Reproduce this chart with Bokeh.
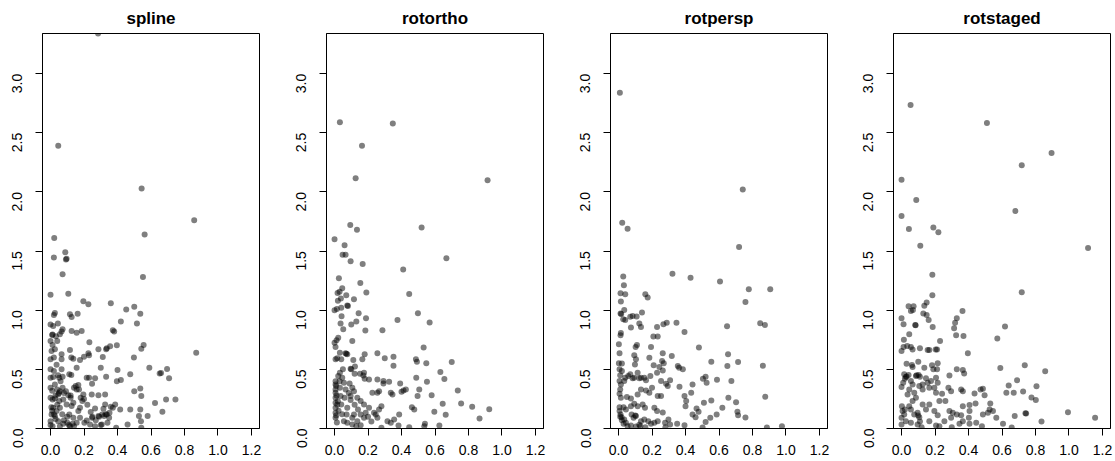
import math
from bokeh.plotting import figure
from bokeh.layouts import row
from bokeh.models import Range1d, FixedTicker, PrintfTickFormatter
from bokeh.embed import file_html
from bokeh.resources import INLINE

panel_titles = ["spline", "rotortho", "rotpersp", "rotstaged"]
x_ticks = [0.0, 0.2, 0.4, 0.6, 0.8, 1.0, 1.2]
y_ticks = [0.0, 0.5, 1.0, 1.5, 2.0, 2.5, 3.0]

spline_pts = [
    (0.284, 3.34), (0.046, 2.39), (0.544, 2.03), (0.858, 1.76), (0.562, 1.64), (0.022, 1.61),
    (0.088, 1.49), (0.092, 1.43), (0.096, 1.435), (0.020, 1.446), (0.072, 1.305), (0.552, 1.28),
    (0.0, 1.13), (0.106, 1.14), (0.196, 1.076), (0.226, 1.05), (0.36, 1.06), (0.452, 1.006),
    (0.5, 1.03), (0.536, 0.97), (0.516, 0.887), (0.42, 0.904), (0.026, 0.977), (0.02, 0.96),
    (0.116, 0.966), (0.126, 0.943), (0.162, 0.97), (0.0, 0.88), (0.016, 0.867), (0.044, 0.887),
    (0.072, 0.84), (0.066, 0.82), (0.01, 0.79), (0.012, 0.795), (0.032, 0.78), (0.056, 0.797),
    (0.126, 0.825), (0.156, 0.81), (0.186, 0.825), (0.372, 0.83), (0.38, 0.82), (0.232, 0.73),
    (0.0, 0.74), (0.012, 0.706), (0.026, 0.67), (0.006, 0.655), (0.04, 0.74), (0.066, 0.627),
    (0.066, 0.585), (0.116, 0.664), (0.124, 0.6), (0.136, 0.59), (0.176, 0.58), (0.2, 0.607),
    (0.226, 0.636), (0.23, 0.62), (0.286, 0.67), (0.332, 0.67), (0.336, 0.678), (0.356, 0.695),
    (0.312, 0.605), (0.396, 0.703), (0.498, 0.6), (0.542, 0.675), (0.556, 0.706), (0.0, 0.585),
    (0.02, 0.6), (0.036, 0.54), (0.0, 0.5), (0.02, 0.486), (0.066, 0.5), (0.156, 0.514),
    (0.3, 0.514), (0.4, 0.494), (0.59, 0.514), (0.652, 0.466), (0.66, 0.469), (0.696, 0.503),
    (0.708, 0.424), (0.476, 0.458), (0.396, 0.4), (0.42, 0.41), (0.332, 0.438), (0.248, 0.378),
    (0.216, 0.43), (0.23, 0.43), (0.266, 0.424), (0.112, 0.458), (0.124, 0.452), (0.0, 0.43),
    (0.016, 0.435), (0.052, 0.43), (0.072, 0.438), (0.026, 0.373), (0.0, 0.345), (0.04, 0.33),
    (0.056, 0.316), (0.072, 0.345), (0.08, 0.30), (0.0, 0.26), (0.012, 0.246), (0.026, 0.254),
    (0.046, 0.288), (0.052, 0.232), (0.092, 0.316), (0.106, 0.282), (0.12, 0.26), (0.14, 0.345),
    (0.156, 0.33), (0.166, 0.367), (0.196, 0.288), (0.18, 0.26), (0.19, 0.232), (0.246, 0.288),
    (0.286, 0.282), (0.326, 0.288), (0.326, 0.203), (0.386, 0.203), (0.36, 0.184), (0.372, 0.175),
    (0.352, 0.133), (0.336, 0.119), (0.32, 0.105), (0.308, 0.119), (0.286, 0.105), (0.316, 0.167),
    (0.266, 0.17), (0.248, 0.09), (0.216, 0.068), (0.202, 0.048), (0.176, 0.09), (0.156, 0.048),
    (0.136, 0.09), (0.112, 0.119), (0.1, 0.048), (0.166, 0.147), (0.176, 0.175), (0.136, 0.218),
    (0.126, 0.19), (0.096, 0.203), (0.076, 0.246), (0.056, 0.175), (0.036, 0.147), (0.016, 0.175),
    (0.006, 0.119), (0.026, 0.105), (0.046, 0.062), (0.0, 0.062), (0.012, 0.02), (0.056, 0.02),
    (0.076, 0.04), (0.116, 0.02), (0.132, 0.04), (0.236, 0.034), (0.266, 0.02), (0.306, 0.034),
    (0.34, 0.048), (0.392, 0.006), (0.416, 0.161), (0.476, 0.161), (0.536, 0.161), (0.528, 0.105),
    (0.54, 0.062), (0.5, 0.316), (0.536, 0.339), (0.542, 0.274), (0.58, 0.105), (0.624, 0.215),
    (0.668, 0.141), (0.69, 0.246), (0.746, 0.246), (0.46, 0.034), (0.542, 0.006), (0.87, 0.64),
    (0.005, 0.18), (0.01, 0.15), (0.02, 0.12), (0.03, 0.08), (0.0, 0.03), (0.04, 0.2),
    (0.03, 0.28), (0.05, 0.3), (0.06, 0.4), (0.045, 0.45), (0.01, 0.32), (0.07, 0.12),
    (0.08, 0.07), (0.1, 0.1), (0.11, 0.03), (0.14, 0.02), (0.12, 0.28), (0.15, 0.36),
    (0.17, 0.33), (0.2, 0.25), (0.22, 0.2), (0.24, 0.14), (0.25, 0.1), (0.27, 0.07),
    (0.29, 0.1), (0.3, 0.03), (0.33, 0.12), (0.35, 0.09),
]

rotortho_pts = [
    (0.032, 2.59), (0.348, 2.58), (0.164, 2.39), (0.126, 2.115), (0.914, 2.10), (0.094, 1.72),
    (0.134, 1.68), (0.52, 1.70), (0.0, 1.60), (0.06, 1.55), (0.048, 1.47), (0.066, 1.47),
    (0.096, 1.415), (0.168, 1.39), (0.41, 1.345), (0.668, 1.44), (0.026, 1.27), (0.154, 1.23),
    (0.046, 1.186), (0.018, 1.146), (0.03, 1.157), (0.07, 1.127), (0.19, 1.15), (0.446, 1.138),
    (0.116, 1.093), (0.038, 1.1), (0.02, 1.08), (0.076, 1.04), (0.08, 1.035), (0.0, 1.0),
    (0.014, 1.01), (0.04, 1.02), (0.144, 0.975), (0.042, 0.95), (0.188, 0.932), (0.13, 0.904),
    (0.1, 0.88), (0.036, 0.887), (0.376, 0.918), (0.498, 0.975), (0.568, 0.896), (0.184, 0.828),
    (0.286, 0.83), (0.052, 0.84), (0.012, 0.746), (0.0, 0.726), (0.022, 0.768), (0.106, 0.74),
    (0.006, 0.69), (0.032, 0.641), (0.066, 0.636), (0.07, 0.632), (0.076, 0.627), (0.006, 0.585),
    (0.016, 0.593), (0.04, 0.585), (0.112, 0.579), (0.122, 0.525), (0.096, 0.506), (0.1, 0.5),
    (0.166, 0.585), (0.18, 0.627), (0.256, 0.636), (0.3, 0.593), (0.352, 0.607), (0.352, 0.531),
    (0.486, 0.585), (0.492, 0.565), (0.532, 0.684), (0.548, 0.551), (0.7, 0.562), (0.022, 0.444),
    (0.032, 0.472), (0.046, 0.43), (0.176, 0.472), (0.172, 0.449), (0.18, 0.421), (0.12, 0.463),
    (0.152, 0.463), (0.006, 0.4), (0.006, 0.373), (0.006, 0.33), (0.006, 0.302), (0.006, 0.26),
    (0.006, 0.218), (0.006, 0.175), (0.006, 0.133), (0.006, 0.09), (0.032, 0.345), (0.036, 0.274),
    (0.04, 0.203), (0.056, 0.387), (0.066, 0.33), (0.06, 0.26), (0.076, 0.175), (0.072, 0.119),
    (0.096, 0.274), (0.106, 0.345), (0.116, 0.316), (0.096, 0.24), (0.136, 0.26), (0.156, 0.232),
    (0.116, 0.119), (0.106, 0.09), (0.176, 0.203), (0.186, 0.133), (0.226, 0.302), (0.256, 0.302),
    (0.266, 0.316), (0.206, 0.175), (0.236, 0.133), (0.266, 0.161), (0.28, 0.189), (0.246, 0.119),
    (0.256, 0.09), (0.156, 0.119), (0.176, 0.09), (0.136, 0.062), (0.156, 0.028), (0.056, 0.062),
    (0.076, 0.048), (0.106, 0.034), (0.28, 0.006), (0.316, 0.062), (0.336, 0.048), (0.206, 0.415),
    (0.256, 0.415), (0.292, 0.401), (0.326, 0.395), (0.292, 0.38), (0.336, 0.302), (0.346, 0.288),
    (0.392, 0.38), (0.426, 0.33), (0.4, 0.31), (0.412, 0.322), (0.488, 0.429), (0.506, 0.33),
    (0.552, 0.395), (0.58, 0.282), (0.632, 0.477), (0.656, 0.418), (0.736, 0.322), (0.756, 0.212),
    (0.646, 0.209), (0.664, 0.116), (0.596, 0.141), (0.54, 0.04), (0.462, 0.18), (0.476, 0.161),
    (0.496, 0.274), (0.386, 0.119), (0.356, 0.076), (0.382, 0.025), (0.446, 0.011), (0.626, 0.025),
    (0.536, 0.02), (0.924, 0.163), (0.866, 0.085), (0.822, 0.183), (0.01, 0.36), (0.012, 0.28),
    (0.016, 0.2), (0.01, 0.11), (0.014, 0.05), (0.02, 0.23), (0.024, 0.15), (0.03, 0.4),
    (0.045, 0.12), (0.05, 0.5), (0.085, 0.3), (0.09, 0.38), (0.12, 0.2), (0.14, 0.16),
    (0.2, 0.1), (0.22, 0.06), (0.13, 0.02),
]

rotpersp_pts = [
    (0.008, 2.84), (0.742, 2.02), (0.022, 1.74), (0.054, 1.69), (0.72, 1.535), (0.322, 1.308),
    (0.43, 1.274), (0.606, 1.243), (0.028, 1.285), (0.032, 1.212), (0.012, 1.144), (0.04, 1.136),
    (0.16, 1.136), (0.174, 1.107), (0.778, 1.178), (0.906, 1.177), (0.758, 1.07), (0.014, 1.073),
    (0.034, 1.003), (0.012, 0.972), (0.016, 0.968), (0.028, 0.924), (0.04, 0.918), (0.07, 0.944),
    (0.084, 0.952), (0.108, 0.946), (0.14, 0.98), (0.124, 0.887), (0.134, 0.859), (0.074, 0.853),
    (0.268, 0.881), (0.288, 0.895), (0.346, 0.895), (0.394, 0.816), (0.648, 0.864), (0.23, 0.859),
    (0.846, 0.89), (0.874, 0.876), (0.208, 0.777), (0.234, 0.777), (0.014, 0.808), (0.012, 0.788),
    (0.194, 0.689), (0.48, 0.684), (0.102, 0.689), (0.11, 0.706), (0.002, 0.712), (0.006, 0.636),
    (0.264, 0.636), (0.318, 0.613), (0.654, 0.627), (0.554, 0.565), (0.714, 0.562), (0.862, 0.53),
    (0.65, 0.528), (0.094, 0.619), (0.104, 0.585), (0.098, 0.542), (0.184, 0.599), (0.21, 0.534),
    (0.244, 0.52), (0.354, 0.528), (0.362, 0.514), (0.384, 0.5), (0.27, 0.551), (0.002, 0.551),
    (0.006, 0.5), (0.02, 0.486), (0.006, 0.401), (0.014, 0.373), (0.01, 0.33), (0.034, 0.401),
    (0.04, 0.429), (0.058, 0.443), (0.07, 0.458), (0.084, 0.424), (0.094, 0.429), (0.114, 0.472),
    (0.124, 0.424), (0.134, 0.429), (0.154, 0.429), (0.164, 0.407), (0.19, 0.443), (0.23, 0.472),
    (0.264, 0.49), (0.26, 0.57), (0.254, 0.401), (0.284, 0.378), (0.294, 0.359), (0.308, 0.407),
    (0.364, 0.353), (0.504, 0.421), (0.52, 0.438), (0.526, 0.387), (0.588, 0.412), (0.674, 0.401),
    (0.442, 0.373), (0.434, 0.302), (0.394, 0.274), (0.404, 0.232), (0.4, 0.189), (0.234, 0.274),
    (0.254, 0.274), (0.184, 0.302), (0.2, 0.345), (0.164, 0.322), (0.134, 0.33), (0.114, 0.288),
    (0.074, 0.254), (0.05, 0.266), (0.006, 0.294), (0.014, 0.26), (0.03, 0.18), (0.044, 0.161),
    (0.074, 0.189), (0.094, 0.209), (0.114, 0.189), (0.144, 0.203), (0.158, 0.175), (0.214, 0.175),
    (0.23, 0.147), (0.264, 0.136), (0.006, 0.18), (0.006, 0.147), (0.012, 0.119), (0.018, 0.096),
    (0.034, 0.076), (0.044, 0.048), (0.078, 0.119), (0.09, 0.09), (0.104, 0.105), (0.134, 0.062),
    (0.154, 0.076), (0.178, 0.062), (0.194, 0.04), (0.214, 0.048), (0.234, 0.062), (0.278, 0.048),
    (0.298, 0.076), (0.308, 0.034), (0.35, 0.04), (0.394, 0.028), (0.442, 0.119), (0.46, 0.096),
    (0.478, 0.141), (0.466, 0.17), (0.51, 0.218), (0.554, 0.237), (0.62, 0.175), (0.656, 0.26),
    (0.702, 0.223), (0.71, 0.141), (0.714, 0.113), (0.758, 0.093), (0.586, 0.119), (0.548, 0.09),
    (0.52, 0.056), (0.054, 0.02), (0.074, 0.025), (0.104, 0.017), (0.124, 0.031), (0.876, 0.268),
    (0.976, 0.02), (0.886, 0.008), (0.502, 0.008), (0.01, 0.1), (0.02, 0.07), (0.1, 0.11),
    (0.02, 0.55), (0.01, 0.45), (0.13, 0.02), (0.16, 0.01), (0.28, 0.01), (0.03, 0.04),
]

rotstaged_pts = [
    (0.054, 2.735), (0.51, 2.583), (0.896, 2.33), (0.718, 2.225), (0.0, 2.104), (0.088, 1.932),
    (0.68, 1.839), (0.0, 1.797), (0.044, 1.687), (0.19, 1.70), (0.22, 1.66), (0.112, 1.546),
    (1.114, 1.527), (0.184, 1.3), (0.718, 1.152), (0.184, 1.127), (0.15, 1.065), (0.136, 1.037),
    (0.042, 1.034), (0.072, 1.034), (0.056, 0.994), (0.068, 1.003), (0.13, 0.972), (0.15, 0.96),
    (0.162, 0.918), (0.364, 0.994), (0.33, 0.932), (0.32, 0.895), (0.314, 0.847), (0.326, 0.788),
    (0.37, 0.782), (0.0, 0.932), (0.012, 0.881), (0.082, 0.876), (0.084, 0.872), (0.186, 0.859),
    (0.618, 0.862), (0.572, 0.76), (0.014, 0.751), (0.046, 0.797), (0.23, 0.74), (0.0, 0.655),
    (0.012, 0.689), (0.034, 0.698), (0.056, 0.689), (0.066, 0.669), (0.11, 0.678), (0.156, 0.664),
    (0.166, 0.664), (0.204, 0.667), (0.212, 0.667), (0.396, 0.636), (0.03, 0.548), (0.062, 0.537),
    (0.066, 0.52), (0.1, 0.565), (0.182, 0.534), (0.216, 0.551), (0.136, 0.514), (0.19, 0.5),
    (0.212, 0.5), (0.33, 0.5), (0.366, 0.494), (0.374, 0.466), (0.59, 0.511), (0.736, 0.534),
    (0.858, 0.485), (0.016, 0.458), (0.026, 0.435), (0.042, 0.452), (0.086, 0.443), (0.102, 0.452),
    (0.11, 0.438), (0.0, 0.35), (0.01, 0.387), (0.056, 0.401), (0.066, 0.373), (0.106, 0.359),
    (0.126, 0.373), (0.146, 0.424), (0.156, 0.387), (0.176, 0.401), (0.206, 0.429), (0.216, 0.387),
    (0.286, 0.449), (0.046, 0.33), (0.076, 0.302), (0.086, 0.26), (0.066, 0.232), (0.036, 0.288),
    (0.126, 0.33), (0.166, 0.345), (0.196, 0.345), (0.206, 0.302), (0.242, 0.294), (0.28, 0.345),
    (0.296, 0.316), (0.356, 0.33), (0.366, 0.316), (0.436, 0.297), (0.472, 0.33), (0.486, 0.336),
    (0.496, 0.282), (0.53, 0.212), (0.626, 0.302), (0.64, 0.364), (0.67, 0.302), (0.69, 0.407),
    (0.726, 0.313), (0.806, 0.358), (0.776, 0.262), (0.802, 0.242), (0.744, 0.127), (0.74, 0.13),
    (0.836, 0.059), (0.994, 0.138), (1.156, 0.09), (0.658, 0.008), (0.002, 0.189), (0.006, 0.147),
    (0.016, 0.119), (0.0, 0.09), (0.026, 0.062), (0.0, 0.034), (0.046, 0.189), (0.056, 0.161),
    (0.076, 0.119), (0.096, 0.133), (0.106, 0.096), (0.056, 0.048), (0.096, 0.034), (0.126, 0.203),
    (0.146, 0.161), (0.166, 0.203), (0.196, 0.147), (0.216, 0.113), (0.226, 0.232), (0.262, 0.232),
    (0.286, 0.147), (0.306, 0.133), (0.33, 0.119), (0.356, 0.113), (0.366, 0.189), (0.406, 0.198),
    (0.442, 0.212), (0.406, 0.147), (0.402, 0.09), (0.366, 0.062), (0.406, 0.04), (0.446, 0.048),
    (0.166, 0.062), (0.206, 0.025), (0.226, 0.02), (0.256, 0.062), (0.296, 0.09), (0.346, 0.04),
    (0.486, 0.119), (0.516, 0.133), (0.526, 0.161), (0.546, 0.147), (0.566, 0.09), (0.606, 0.04),
    (0.676, 0.105), (0.02, 0.42), (0.03, 0.44), (0.09, 0.45), (0.1, 0.11), (0.11, 0.06),
    (0.12, 0.01), (0.02, 0.16), (0.3, 0.01), (0.48, 0.02),
]

panel_data = [spline_pts, rotortho_pts, rotpersp_pts, rotstaged_pts]

FONT = "Liberation Sans"
fig_widths = [284, 284, 283, 264]
right_borders = [25, 25, 24, 5]

figs = []
for title, pts, w, rb in zip(panel_titles, panel_data, fig_widths, right_borders):
    xs = [p[0] for p in pts]
    ys = [p[1] for p in pts]
    p = figure(width=w, height=461, output_backend="svg", toolbar_location=None,
               x_range=Range1d(-0.048, 1.248), y_range=Range1d(0, 3.34),
               min_border_left=42, min_border_right=rb, min_border_top=33, min_border_bottom=33,
               title=title)
    p.title.align = "center"
    p.title.text_font = FONT
    p.title.text_font_size = "17px"
    p.title.text_font_style = "bold"
    p.title.text_color = "black"
    p.title.standoff = 12
    p.grid.visible = False
    p.outline_line_color = "black"
    p.outline_line_alpha = 1.0
    p.outline_line_width = 1
    p.background_fill_color = "white"
    p.border_fill_color = "white"
    for ax in (p.xaxis[0], p.yaxis[0]):
        ax.axis_line_color = "black"
        ax.major_tick_line_color = "black"
        ax.major_tick_out = 7
        ax.major_tick_in = 0
        ax.minor_tick_line_color = None
        ax.major_label_text_font = FONT
        ax.major_label_text_font_size = "14px"
        ax.major_label_text_color = "black"
        ax.formatter = PrintfTickFormatter(format="%.1f")
    p.xaxis[0].ticker = FixedTicker(ticks=x_ticks)
    p.yaxis[0].ticker = FixedTicker(ticks=y_ticks)
    p.xaxis[0].major_label_standoff = 9
    p.yaxis[0].major_label_standoff = 18
    p.yaxis[0].major_label_orientation = math.pi / 2
    p.scatter(xs, ys, size=6, fill_color="black", fill_alpha=0.5, line_color=None)
    figs.append(p)

layout = row(*figs, spacing=0)
open("out.html", "w").write(file_html(layout, INLINE))
